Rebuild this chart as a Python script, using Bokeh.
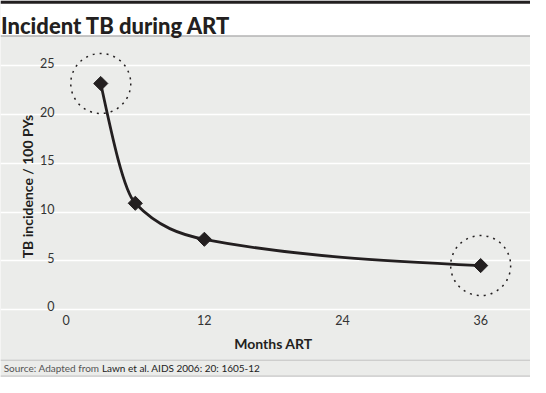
import numpy as np
from bokeh.plotting import figure
from bokeh.models import Range1d, FixedTicker, BoxAnnotation, Span, Label
from bokeh.core.properties import value
from bokeh.embed import file_html
from bokeh.resources import INLINE

# ---- data -------------------------------------------------------------
title = "Incident TB during ART"
months = [3, 6, 12, 36]
incidence = [23.2, 10.9, 7.2, 4.5]
highlight_idx = [0, 3]
x_ticks = [0, 12, 24, 36]
y_ticks = [0, 5, 10, 15, 20, 25]
x_label = "Months ART"
y_label = "TB incidence / 100 PYs"
source_a = "Source: Adapted from"
source_b = "Lawn et al. AIDS 2006: 20: 1605-12"

# ---- layout -----------------------------------------------------------
W, H = 530, 377
SX, SY = W / 546, H / 393
X0_REF, PX_MONTH_REF = 67.7, 11.86
Y0_REF, PX_UNIT_REF = 322.0, 10.15
px_m = PX_MONTH_REF * SX
px_u = PX_UNIT_REF * SY
x_start = -X0_REF * SX / px_m
x_end = x_start + W / px_m
y_end = Y0_REF * SY / px_u
y_start = y_end - H / px_u


def dx(xr):
    return x_start + xr * SX / px_m


def dy(yr):
    return y_end - yr * SY / px_u


BG = "#ebecea"
INK = "#231f20"
FONT = "Lato"
VFONT = value(FONT)

p = figure(width=W, height=H, output_backend="svg", toolbar_location=None,
           x_range=Range1d(x_start, x_end), y_range=Range1d(y_start, y_end),
           x_axis_location=None, y_axis_location=None,
           min_border=0, min_border_left=0, min_border_right=0,
           min_border_top=0, min_border_bottom=0)
p.outline_line_color = None
p.background_fill_color = BG
p.border_fill_color = BG
p.xgrid.visible = False
p.ygrid.ticker = FixedTicker(ticks=y_ticks)
p.ygrid.grid_line_color = "white"
p.ygrid.grid_line_width = 1.6

# header
p.add_layout(BoxAnnotation(bottom=dy(37), fill_color="white", fill_alpha=1.0, line_color=None))
p.add_layout(BoxAnnotation(bottom=dy(3.3), fill_color=INK, fill_alpha=1.0, line_color=None))
p.add_layout(Span(location=dy(37), dimension="width", line_color="#b3b3b3", line_width=1.3))
p.add_layout(Label(x=dx(0.5), y=dy(26.5), text=title, text_font="Lato Black", text_font_style="normal",
                   text_font_size="22px", text_color=INK, text_baseline="alphabetic"))

# footer
p.add_layout(Span(location=dy(375), dimension="width", line_color="#c2c2c2", line_width=1))
p.add_layout(Span(location=dy(391.5), dimension="width", line_color="#c2c2c2", line_width=1))
p.add_layout(Label(x=dx(3.3), y=dy(383), text=source_a, text_font=FONT, text_font_size="10px",
                   text_color="#555555", text_baseline="middle"))
p.add_layout(Label(x=dx(104.5), y=dy(383), text=source_b, text_font=FONT, text_font_size="10px",
                   text_color="#222222", text_baseline="middle"))

# tick labels
p.text(x=[dx(55.7)] * len(y_ticks), y=y_ticks, text=[str(t) for t in y_ticks],
       text_align="right", text_baseline="alphabetic", y_offset=-3,
       text_font=VFONT, text_font_size="12.5px", text_color="#333333")
p.text(x=x_ticks, y=[dy(333.5)] * len(x_ticks), text=[str(t) for t in x_ticks],
       text_align="center", text_baseline="middle",
       text_font=VFONT, text_font_size="12.5px", text_color="#333333")

# axis titles
p.add_layout(Label(x=dx(28), y=dy(194), text=y_label, angle=np.pi / 2, text_align="center",
                   text_baseline="middle", text_font=FONT, text_font_style="bold",
                   text_font_size="14px", text_color=INK))
p.add_layout(Label(x=(x_ticks[0] + x_ticks[-1]) / 2, y=dy(358), text=x_label, text_align="center",
                   text_baseline="middle", text_font=FONT, text_font_style="bold",
                   text_font_size="14px", text_color=INK))

# smooth (monotone cubic) curve through the data points
xs = np.array(months, dtype=float)
ys = np.array(incidence, dtype=float)
h = np.diff(xs)
s = np.diff(ys) / h
t = np.zeros(len(xs))
for i in range(1, len(xs) - 1):
    if s[i - 1] * s[i] > 0:
        pp = (s[i - 1] * h[i] + s[i] * h[i - 1]) / (h[i - 1] + h[i])
        t[i] = (np.sign(s[i - 1]) + np.sign(s[i])) * min(abs(s[i - 1]), abs(s[i]), 0.5 * abs(pp))
t[0] = (3 * s[0] - t[1]) / 2
t[-1] = (3 * s[-1] - t[-2]) / 2
p.bezier(x0=xs[:-1], y0=ys[:-1], x1=xs[1:], y1=ys[1:],
         cx0=xs[:-1] + h / 3, cy0=ys[:-1] + t[:-1] * h / 3,
         cx1=xs[1:] - h / 3, cy1=ys[1:] - t[1:] * h / 3,
         line_color=INK, line_width=2.8)

p.scatter(x=months, y=incidence, marker="square", angle=np.pi / 4, size=10,
          fill_color=INK, line_color=INK, line_width=1)

p.scatter(x=[months[i] for i in highlight_idx], y=[incidence[i] for i in highlight_idx],
          marker="circle", size=60, fill_color=None, line_color=INK,
          line_width=1.5, line_dash="2 5")

open("out.html", "w").write(file_html(p, INLINE))
